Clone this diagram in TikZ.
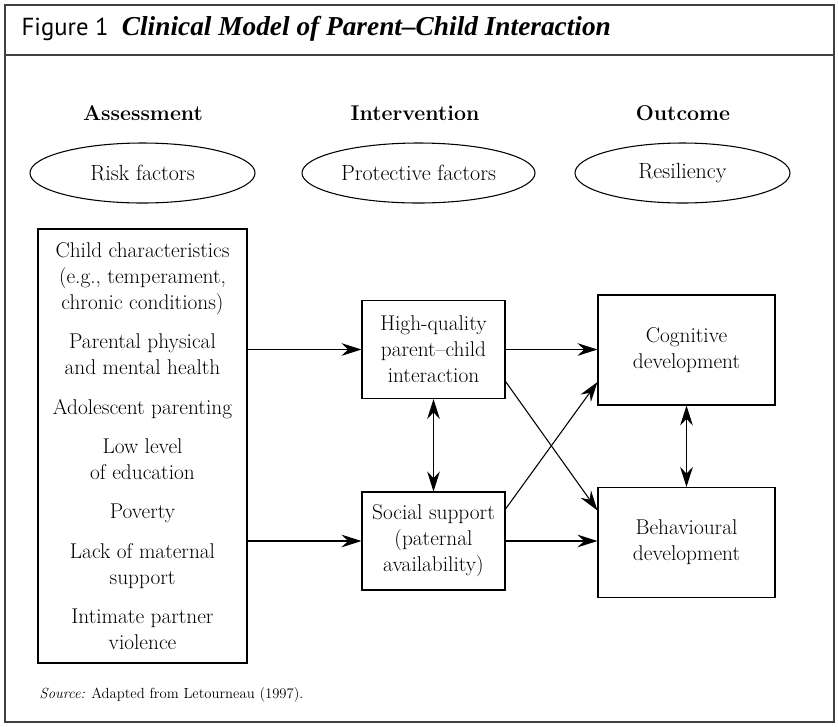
\documentclass[tikz,border=0pt]{standalone}
\usepackage{fontspec}
\newfontfamily\figsans{PT Sans}
\newfontfamily\figserif{Liberation Serif}
\usetikzlibrary{arrows.meta,positioning,shapes.geometric}

\begin{document}
\begin{tikzpicture}[x=0.75pt,y=-0.75pt,
      font=\fontsize{16}{19.5}\selectfont,
      box/.style={draw,line width=0.8pt,minimum height=82.5pt,align=center,
                  inner sep=0pt},
      oval/.style={ellipse,draw,line width=0.8pt,minimum height=45pt,inner sep=0pt,
                   font=\fontsize{16.5}{19.5}\selectfont},
      head/.style={font=\fontsize{16}{19}\selectfont\bfseries},
      arr/.style={-{Stealth[length=15pt,width=9.5pt,inset=5pt]},line width=0.8pt},
      dbl/.style={{Stealth[length=15pt,width=9.5pt,inset=5pt]}-{Stealth[length=15pt,width=9.5pt,inset=5pt]},
                  line width=0.8pt}]
    \useasboundingbox (0,0) rectangle (838,726);
    % frame and title
    \draw[line width=1pt,black!75] (5,5) rectangle (834,722);
    \draw[line width=1pt,black!75] (5,55) -- (834,55);
    \node[anchor=west] (title) at (17,29)
      {{\figsans\fontsize{18.5}{22}\selectfont Figure 1}\hspace{10pt}%
       {\figserif\fontsize{20.5}{24}\selectfont\bfseries\itshape Clinical Model of Parent–Child Interaction}};

    \node[head] (hAss) at (143,113) {Assessment};
    \node[head] (hInt) at (415,113) {Intervention};
    \node[head] (hOut) at (683,113) {Outcome};

    \node[oval,minimum width=168.75pt] (risk)  at (142.5,173) {Risk factors};
    \node[oval,minimum width=174.75pt] (prot)  at (418.5,173) {Protective factors};
    \node[oval,minimum width=161.25pt] (resil) at (682.5,173) {Resiliency};

    \node[box,minimum width=156.75pt,minimum height=325.5pt] (factors) at (142.5,446)
      {Child characteristics\\(e.g., temperament,\\chronic conditions)\\[10pt]
       Parental physical\\and mental health\\[10pt]
       Adolescent parenting\\[10pt]
       Low level\\of education\\[10pt]
       Poverty\\[10pt]
       Lack of maternal\\support\\[10pt]
       Intimate partner\\violence};

    \node[box,minimum width=107.25pt,minimum height=73.5pt] (hq) at (433.5,349.5)
      {High-quality\\parent--child\\interaction};
    \node[box,minimum width=107.25pt,minimum height=73.5pt] (ss) at (433.5,541)
      {Social support\\(paternal\\availability)};
    \node[box,minimum width=132.75pt] (cog) at (686.5,350) {Cognitive\\development};
    \node[box,minimum width=132.75pt] (beh) at (686.5,542.5) {Behavioural\\development};

    \draw[arr] (factors.east |- hq.west) -- (hq.west);
    \draw[arr] (factors.east |- ss.west) -- (ss.west);
    \draw[arr] (hq.east) -- (cog.west |- hq.east);
    \draw[arr] (ss.east) -- (beh.west |- ss.east);
    \draw[arr] ([yshift=-24pt]hq.east) -- ([yshift=24pt]beh.west);
    \draw[arr] ([yshift=24pt]ss.east) -- ([yshift=-24pt]cog.west);
    \draw[dbl] (hq) -- (ss);
    \draw[dbl] (cog) -- (beh);

    \node[anchor=west,font=\fontsize{11}{14}\selectfont] (src) at (35,695)
      {\textit{Source:} Adapted from Letourneau (1997).};
  \end{tikzpicture}
\end{document}
